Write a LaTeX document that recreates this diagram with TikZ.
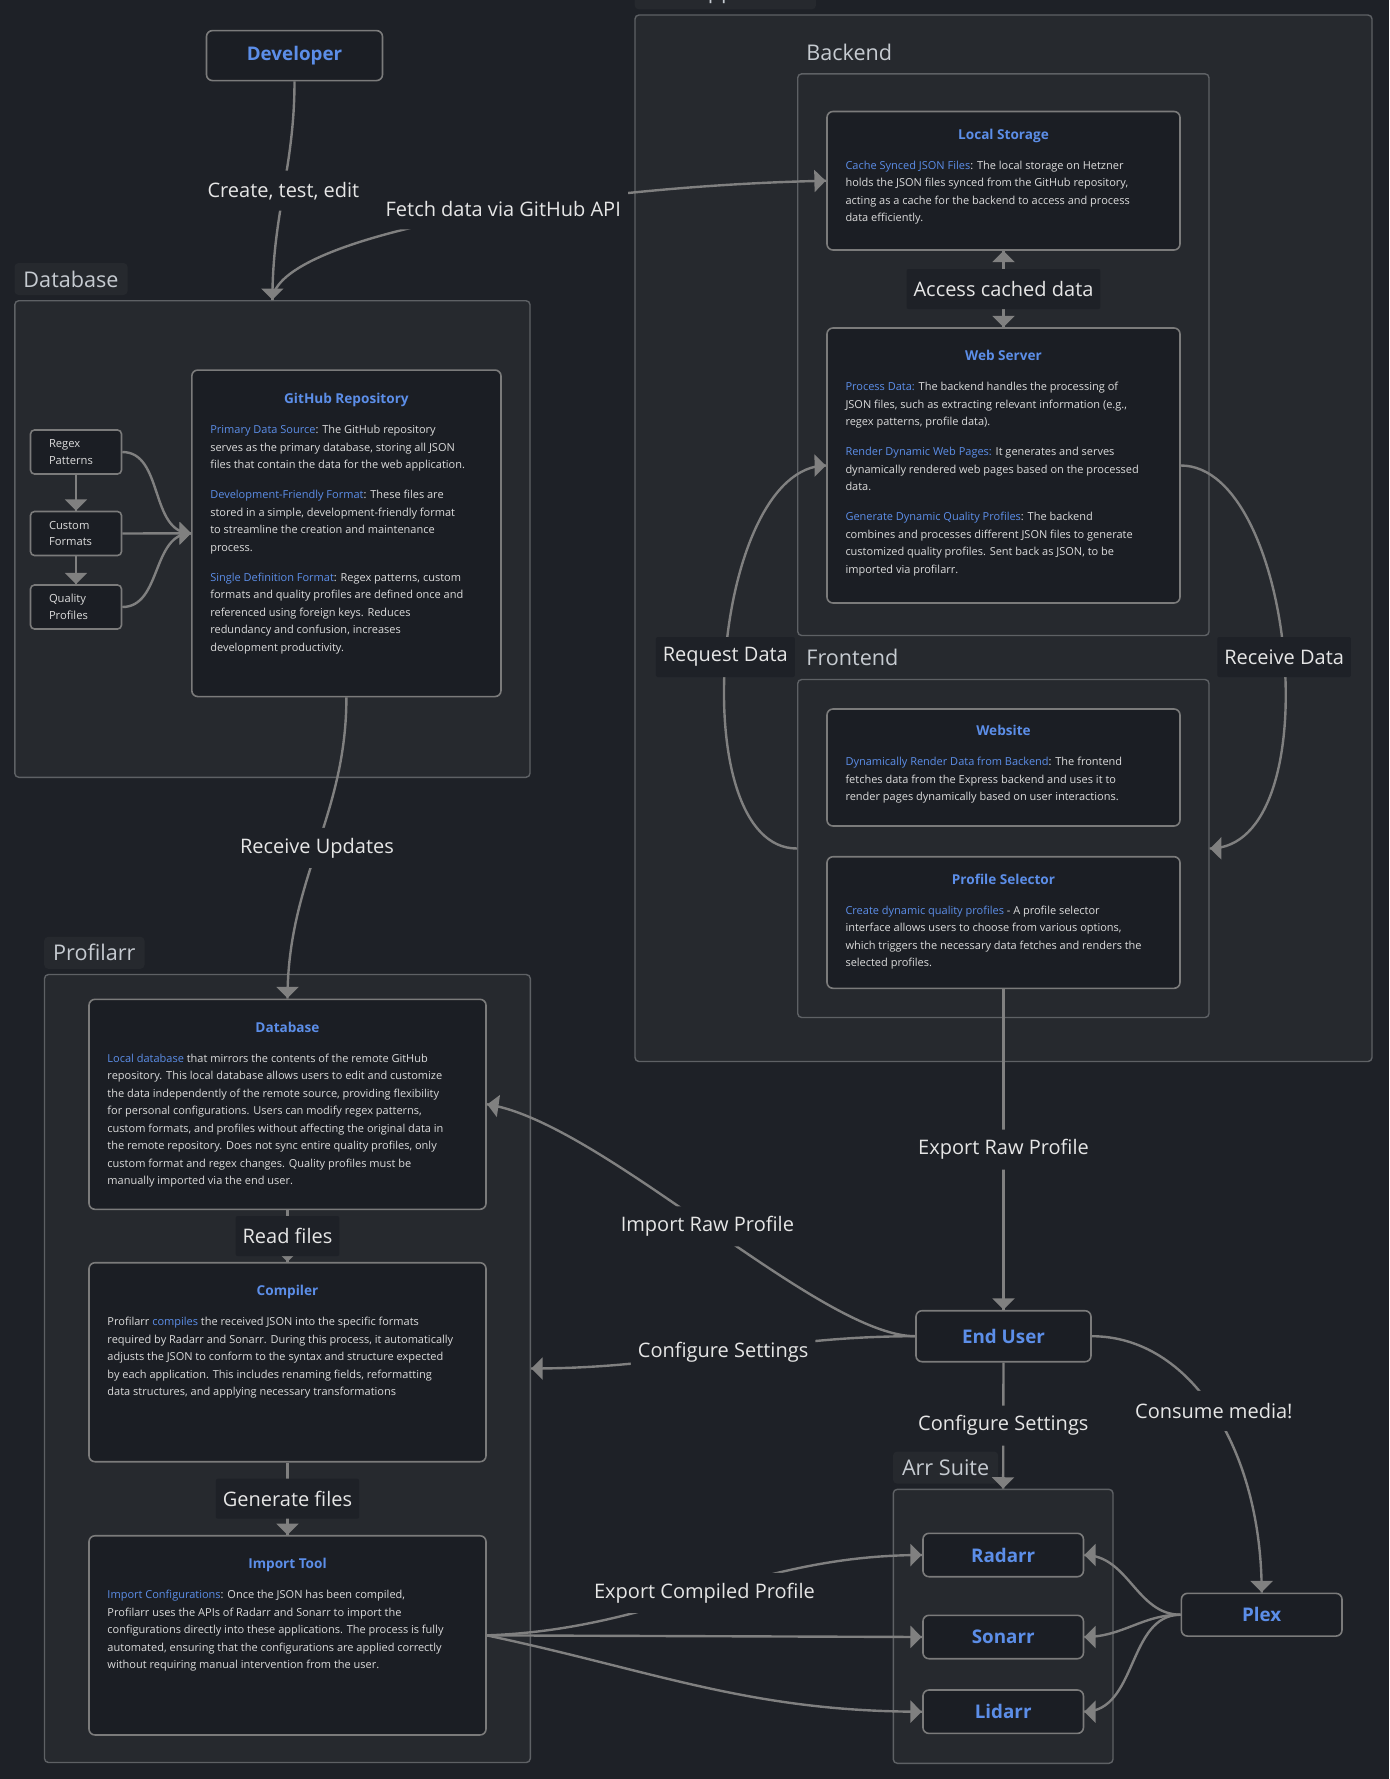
\documentclass[tikz,border=0pt]{standalone}
\usepackage{fontspec}
\setmainfont{Open Sans}
\usepackage{tikz}
\usetikzlibrary{arrows}
\usetikzlibrary{decorations.markings}
\usetikzlibrary{positioning}
\tikzset{->/.style = {decoration={markings,
                                  mark=at position 0.999 with {\arrow[scale=0.9]{triangle 90}}},
                      postaction={decorate}}}
\tikzset{<->/.style = {decoration={markings,
                                   mark=at position 0.001 with {\arrowreversed[scale=0.9]{triangle 90}},
                                   mark=at position 0.999 with {\arrow[scale=0.9]{triangle 90}}},
                       postaction={decorate}}}
\definecolor{mback}{HTML}{1E2127}
\definecolor{mgrpfill}{HTML}{26292E}
\definecolor{mgrpline}{HTML}{5E6165}
\definecolor{mnode}{HTML}{1B1E24}
\definecolor{mline}{HTML}{7B7B7B}
\definecolor{medge}{HTML}{808080}
\definecolor{mlabel}{HTML}{1E2127}
\definecolor{mblue}{HTML}{5C8EE8}
\definecolor{mtext}{HTML}{DCDCDC}
\definecolor{mtab}{HTML}{C6CBD1}
\definecolor{mlabeltext}{HTML}{E6E6E6}
\newcommand{\cardtitlefont}{\fontsize{6.8pt}{8pt}\selectfont\bfseries\color{mblue}}
\newcommand{\cardbodyfont}{\fontsize{5.5pt}{8.75pt}\selectfont\color{mtext}}
\newcommand{\keyword}[1]{{\color{mblue}#1}}
% width, height, title baseline, title, body
\newcommand{\cardtext}[5]{%
  \begin{minipage}[c][#2][t]{#1}%
    \setlength{\parskip}{6.25pt}%
    \centering{\cardtitlefont\rule{0pt}{#3}#4}\par
    \raggedright\cardbodyfont\leftskip=9.25pt\relax #5%
  \end{minipage}}
\tikzset{grp/.style = {draw=mgrpline, fill=mgrpfill, rounded corners=2pt, line width=0.7pt, inner sep=0pt}}
\tikzset{grptab/.style = {fill=mgrpfill, rounded corners=2pt, text=mtab, anchor=south west,
                          font=\fontsize{10.8pt}{13pt}\selectfont, inner xsep=4.5pt, inner ysep=0pt,
                          minimum height=16pt, yshift=2.3pt}}
\tikzset{card/.style = {draw=mline, fill=mnode, rounded corners=3pt, line width=0.8pt, inner sep=0pt}}
\tikzset{actor/.style = {draw=mline, fill=mnode, rounded corners=3pt, line width=0.8pt, text=mblue,
                         font=\fontsize{9.4pt}{11pt}\selectfont\bfseries}}
\tikzset{smallbox/.style = {draw=mline, fill=mnode, rounded corners=2pt, line width=0.8pt, text=mtext,
                            font=\fontsize{5.6pt}{8.35pt}\selectfont, align=left, text width=27pt,
                            inner xsep=9.25pt, minimum height=22pt}}
\tikzset{elabel/.style = {fill=mlabel, text=mlabeltext, font=\fontsize{10pt}{12pt}\selectfont,
                          inner xsep=3.5pt, inner ysep=0pt, minimum height=20pt, rounded corners=1pt}}
\tikzset{link/.style = {draw=medge, line width=1.2pt}}
\begin{document}
\begin{tikzpicture}[x=0.5pt, y=-0.5pt]
  \fill [mback] (0, 0) rectangle (1389, 1779);
  \useasboundingbox (0, 0) rectangle (1389, 1779);
  \clip (0, 0) rectangle (1389, 1779);

  % groups
  \node [grp, minimum width=257.6pt, minimum height=238.3pt] (dbgrp) at (272.4, 539) {};
  \node [grptab] (dbtab) at (dbgrp.north west) {Database};
  \node [grp, minimum width=368.5pt, minimum height=523.25pt] (webgrp) at (1003.5, 538.25) {};
  \node [grptab] (webtab) at (webgrp.north west) {Web Application};
  \node [grp, minimum width=205.65pt, minimum height=280.85pt] (backgrp) at (1003.35, 354.65) {};
  \node [grptab] (backtab) at (backgrp.north west) {Backend};
  \node [grp, minimum width=205.65pt, minimum height=169pt] (frontgrp) at (1003.35, 848.5) {};
  \node [grptab] (fronttab) at (frontgrp.north west) {Frontend};
  \node [grp, minimum width=242.9pt, minimum height=394pt] (profgrp) at (287.4, 1368.5) {};
  \node [grptab] (proftab) at (profgrp.north west) {Profilarr};
  \node [grp, minimum width=109.85pt, minimum height=137pt] (arrgrp) at (1003.15, 1626.3) {};
  \node [grptab] (arrtab) at (arrgrp.north west) {Arr Suite};

  % actors
  \node [actor, minimum width=88pt, minimum height=25pt] (dev) at (294.5, 55.6) {Developer};
  \node [actor, minimum width=87.5pt, minimum height=25.5pt] (enduser) at (1003.5, 1336.2) {End User};
  \node [actor, minimum width=80.25pt, minimum height=21.7pt] (radarr) at (1003.2, 1555) {Radarr};
  \node [actor, minimum width=80.25pt, minimum height=21.7pt] (sonarr) at (1003.2, 1637) {Sonarr};
  \node [actor, minimum width=80.25pt, minimum height=21.7pt] (lidarr) at (1003.2, 1711.7) {Lidarr};
  \node [actor, minimum width=80.3pt, minimum height=21.35pt] (plex) at (1261.7, 1614.7) {Plex};

  % database
  \node [smallbox] (regex) at (76, 452) {Regex\\Patterns};
  \node [smallbox] (custom) at (76, 533.5) {Custom\\Formats};
  \node [smallbox] (quality) at (76, 607) {Quality\\Profiles};
  \node [card] (repo) at (346.4, 533.3) {\cardtext{154.6pt}{163.25pt}{16.95pt}{GitHub Repository}{%
    \keyword{Primary Data Source}: The GitHub repository\\
    serves as the primary database, storing all JSON\\
    files that contain the data for the web application.\par
    \keyword{Development-Friendly Format}: These files are\\
    stored in a simple, development-friendly format\\
    to streamline the creation and maintenance\\
    process.\par
    \keyword{Single Definition Format}: Regex patterns, custom\\
    formats and quality profiles are defined once and\\
    referenced using foreign keys. Reduces\\
    redundancy and confusion, increases\\
    development productivity.}};

  % web application
  \node [card] (localstore) at (1003.5, 180.75) {\cardtext{176.5pt}{69.25pt}{13.95pt}{Local Storage}{%
    \keyword{Cache Synced JSON Files}: The local storage on Hetzner\\
    holds the JSON files synced from the GitHub repository,\\
    acting as a cache for the backend to access and process\\
    data efficiently.}};
  \node [card] (webserver) at (1003.5, 465.5) {\cardtext{176.5pt}{137.5pt}{16.45pt}{Web Server}{%
    \keyword{Process Data:} The backend handles the processing of\\
    JSON files, such as extracting relevant information (e.g.,\\
    regex patterns, profile data).\par
    \keyword{Render Dynamic Web Pages:} It generates and serves\\
    dynamically rendered web pages based on the processed\\
    data.\par
    \keyword{Generate Dynamic Quality Profiles}: The backend\\
    combines and processes different JSON files to generate\\
    customized quality profiles. Sent back as JSON, to be\\
    imported via profilarr.}};
  \node [card] (website) at (1003.5, 767.5) {\cardtext{176.5pt}{58.5pt}{13.45pt}{Website}{%
    \keyword{Dynamically Render Data from Backend}: The frontend\\
    fetches data from the Express backend and uses it to\\
    render pages dynamically based on user interactions.}};
  \node [card] (profsel) at (1003.5, 922.5) {\cardtext{176.5pt}{65.8pt}{13.75pt}{Profile Selector}{%
    \keyword{Create dynamic quality profiles} - A profile selector\\
    interface allows users to choose from various options,\\
    which triggers the necessary data fetches and renders the\\
    selected profiles.}};

  % profilarr
  \node [card] (pdb) at (287.5, 1104.3) {\cardtext{198.5pt}{105pt}{16.45pt}{Database}{%
    \keyword{Local database} that mirrors the contents of the remote GitHub\\
    repository. This local database allows users to edit and customize\\
    the data independently of the remote source, providing flexibility\\
    for personal configurations. Users can modify regex patterns,\\
    custom formats, and profiles without affecting the original data in\\
    the remote repository. Does not sync entire quality profiles, only\\
    custom format and regex changes. Quality profiles must be\\
    manually imported via the end user.}};
  \node [card] (compiler) at (287.5, 1362.2) {\cardtext{198.5pt}{99.5pt}{16.6pt}{Compiler}{%
    Profilarr \keyword{compiles} the received JSON into the specific formats\\
    required by Radarr and Sonarr. During this process, it automatically\\
    adjusts the JSON to conform to the syntax and structure expected\\
    by each application. This includes renaming fields, reformatting\\
    data structures, and applying necessary transformations}};
  \node [card] (importtool) at (287.5, 1635.35) {\cardtext{198.5pt}{99.6pt}{16.6pt}{Import Tool}{%
    \keyword{Import Configurations}: Once the JSON has been compiled,\\
    Profilarr uses the APIs of Radarr and Sonarr to import the\\
    configurations directly into these applications. The process is fully\\
    automated, ensuring that the configurations are applied correctly\\
    without requiring manual intervention from the user.}};

  % connectors
  \draw [link, ->] (dev.south) to [out=-90, in=90] node [elabel] {Create, test, edit} (dbgrp.north);
  \draw [link, ->] (dbgrp.north) .. controls +(3, -65) and +(-250, 5) .. node [elabel, pos=0.57] {Fetch data via GitHub API} (localstore.west);
  \draw [link, ->] (regex) -- (custom);
  \draw [link, ->] (custom) -- (quality);
  \draw [link, ->] (regex.east) to [out=0, in=180] (repo.west);
  \draw [link, ->] (custom.east) -- (repo.west);
  \draw [link, ->] (quality.east) to [out=0, in=180] (repo.west);
  \draw [link, ->] (repo.south) to [out=-90, in=90] node [elabel] {Receive Updates} (pdb.north);

  \draw [link, <->] (webserver.north) -- node [elabel] {Access cached data} (localstore.south);
  \draw [link, ->] (frontgrp.west) .. controls +(-115, 0) and +(-115, 0) .. node [elabel] {Request Data} (webserver.west);
  \draw [link, ->] (webserver.east) .. controls +(115, 0) and +(122, 0) .. node [elabel] {Receive Data} (frontgrp.east);
  \draw [link, ->] (profsel.south) -- node [elabel] {Export Raw Profile} (enduser.north);

  \draw [link, ->] (pdb.south) -- node [elabel] {Read files} (compiler.north);
  \draw [link, ->] (compiler.south) -- node [elabel] {Generate files} (importtool.north);

  \draw [link, ->] (enduser.west) .. controls +(-96, 0) and +(113, 16) .. node [elabel] {Import Raw Profile} (pdb.east);
  \draw [link, ->] (enduser.west) to [out=180, in=0] node [elabel] {Configure Settings} (profgrp.east);
  \draw [link, ->] (enduser.south) -- node [elabel] {Configure Settings} (arrgrp.north);
  \draw [link, ->] (enduser.east) .. controls +(99, 0) and +(0, -143) .. node [elabel] {Consume media!} (plex.north);

  \draw [link, ->] (importtool.east) to [out=2, in=180] node [elabel] {Export Compiled Profile} (radarr.west);
  \draw [link, ->] (importtool.east) -- (sonarr.west);
  \draw [link, ->] (importtool.east) to [out=-12, in=180] (lidarr.west);

  \draw [link, ->] (plex.west) to [out=180, in=0] (radarr.east);
  \draw [link, ->] (plex.west) to [out=180, in=0] (sonarr.east);
  \draw [link, ->] (plex.west) to [out=180, in=0] (lidarr.east);
\end{tikzpicture}
\end{document}
